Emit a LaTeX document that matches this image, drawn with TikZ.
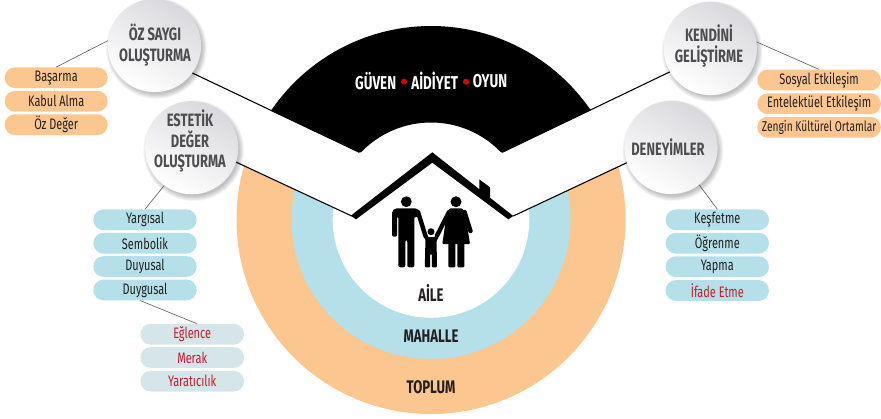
\documentclass[tikz,border=0pt]{standalone}
\usepackage{fontspec}
\setmainfont{Fira Sans}[FakeStretch=0.72]
\definecolor{oran}{HTML}{FBC68F}
\definecolor{lblue}{HTML}{B5E0E9}
\definecolor{pale}{HTML}{D5E5EA}
\definecolor{tred}{HTML}{BE1E2D}
\definecolor{ballgray}{HTML}{4D4D4F}
\definecolor{ink}{HTML}{231F20}
\definecolor{ballshade}{HTML}{D9D9DD}
\tikzset{
  pillbase/.style={draw=none,minimum height=20.8pt,inner sep=0pt,rounded corners=10.3pt,font=\fontsize{15.2}{17}\selectfont,text=ink},
  opill/.style={pillbase,fill=oran,minimum width=103pt},
  wpill/.style={pillbase,fill=oran,minimum width=123.6pt},
  bpill/.style={pillbase,fill=lblue,minimum width=103.4pt},
  ppill/.style={pillbase,fill=pale,minimum width=103.6pt,text=tred},
  ball/.style={circle,minimum size=93.2pt,inner sep=0pt,draw=none,left color=ballshade,right color=white,shading angle=-30},
  balltext/.style={align=center,font=\fontsize{17.9}{20.5}\selectfont\bfseries,text=ballgray,inner sep=0pt},
  ringtext/.style={font=\fontsize{18.2}{20}\selectfont\bfseries,text=ink,inner sep=0pt},
  toptext/.style={font=\fontsize{18.6}{20}\selectfont\bfseries,text=white,inner sep=0pt},
  reddot/.style={circle,fill=red!85!black,minimum size=6pt,inner sep=0pt,draw=none},
  thinlink/.style={draw=black!65,line width=0.6pt},
  blackline/.style={draw=black,line width=1.1pt},
  limb/.style={line width=#1,line cap=round,line join=round,draw=black},
}
\newcommand{\ballshadow}[2]{%
  \foreach \k in {1,...,10}{\fill[black,opacity=0.028] (#1+2,#2+3) circle ({46.6+4.5-0.6*\k});}%
}
\begin{document}
\begin{tikzpicture}[x=1pt,y=-1pt]
\useasboundingbox (0,0) rectangle (881,418);
% rings
\fill[oran] (431,219.5) circle (194.5);
\fill[lblue] (431,219.5) circle (139.5);
\fill[white] (431,219.5) circle (98.3);
% white band mask
\fill[white] (180,136.5) -- (351.7,216) -- (513.3,216) -- (680,136.5) -- (680,-5) -- (180,-5) -- cycle;
% black sector
\begin{scope}
  \clip (193,74) -- (359.3,152.3) -- (502.3,152.3) -- (669,73) -- (669,-5) -- (193,-5) -- cycle;
  \fill[black,even odd rule] (431,219.5) circle (193.5) (431,219.5) circle (97);
\end{scope}
% roof
\fill[black] (350.7,215.7) -- (432.3,152.3) -- (479.3,189.2) -- (479.3,179.3) -- (490,187.3) -- (490,197.7) -- (513.3,216) -- (508.3,219.3) -- (432.3,162.7) -- (356,219.3) -- cycle;
% family
\fill (406.3,201.7) circle (5.4);
\fill (456,201.7) circle (5.5);
\fill (431,231.7) circle (3.5);
% man
\fill[rounded corners=2pt] (395,208.3) -- (417,208.3) -- (420.5,212) -- (416,218) -- (414.3,216) -- (414.3,267.3) -- (407.3,267.3) -- (407.3,240) -- (405.3,240) -- (405.3,267.3) -- (398.3,267.3) -- (398.3,216) -- (397.2,216) -- (397.2,236.7) -- (392,236.7) -- (392,211) -- cycle;
\draw[limb=4.4pt] (418,212) -- (425.5,236);
\draw[limb=4pt] (426,237) -- (431,243);
% woman
\fill[rounded corners=1pt] (450,208.3) -- (462,208.3) -- (465,212) -- (470,244) -- (442.3,244) -- (447,212) -- cycle;
\fill[rounded corners=1pt] (448.3,243) -- (455.3,243) -- (455.3,267.3) -- (448.3,267.3) -- cycle;
\fill[rounded corners=1pt] (457.3,243) -- (464.3,243) -- (464.3,267.3) -- (457.3,267.3) -- cycle;
\draw[limb=4.4pt] (449,212) -- (436.8,236);
\draw[limb=4.4pt] (464.5,212) -- (470.5,231);
% child
\fill[rounded corners=1pt] (425.5,237) -- (436.5,237) -- (437,267.3) -- (431.8,267.3) -- (431.8,254) -- (430.2,254) -- (430.2,267.3) -- (424.8,267.3) -- cycle;
\draw[limb=3.6pt] (436.5,237.5) -- (433,243);
% ball shadows
\ballshadow{154.5}{45.5}
\ballshadow{191.7}{147.7}
\ballshadow{710.3}{48.5}
\ballshadow{671}{147.5}
% balls
\node[ball] (oz) at (154.5,45.5) {};
\node[ball] (est) at (191.7,147.7) {};
\node[ball] (ken) at (710.3,48.5) {};
\node[ball] (den) at (671,147.5) {};
\node[balltext] (oztext) at (155,45) {ÖZ SAYGI\\OLUŞTURMA};
\node[balltext] (esttext) at (190,141) {ESTETİK\\DEĞER\\OLUŞTURMA};
\node[balltext] (kentext) at (709,46) {KENDİNİ\\GELİŞTİRME};
\node[balltext] (dentext) at (668,147) {DENEYİMLER};
% black lines
\coordinate (vl) at (359.3,152.3);
\coordinate (vr) at (502.3,152.3);
\coordinate (tl) at (351.7,216);
\coordinate (tr) at (513.3,216);
\draw[blackline] (oz.-36.5) -- (vl);
\draw[blackline] (ken.210.7) -- (vr);
\draw[blackline] (est.-18) -- (tl);
\draw[blackline] (den.199) -- (tr);
% top labels
\node[toptext] (guven) at (375.7,81) {GÜVEN};
\node[toptext] (aidiyet) at (434.7,81) {AİDİYET};
\node[toptext] (oyun) at (490,81) {OYUN};
\node[reddot] (d1) at (404,81.7) {};
\node[reddot] (d2) at (466,81.7) {};
\node[ringtext] (aile) at (431,293) {AİLE};
\node[ringtext] (mahalle) at (431,336) {MAHALLE};
\node[ringtext] (toplum) at (431,386.7) {TOPLUM};
% pills
\node[opill] (p1) at (56.2,77.7) {Başarma};
\node[opill] (p2) at (56.2,101.2) {Kabul Alma};
\node[opill] (p3) at (56.2,124.7) {Öz Değer};
\node[wpill] (w1) at (819.1,80) {Sosyal Etkileşim};
\node[wpill] (w2) at (819.1,103.8) {Entelektüel Etkileşim};
\node[wpill,font=\fontsize{14.2}{16}\selectfont] (w3) at (819.1,127.2) {Zengin Kültürel Ortamlar};
\node[bpill] (b1) at (145,219.8) {Yargısal};
\node[bpill] (b2) at (145,243.2) {Sembolik};
\node[bpill] (b3) at (145,266.5) {Duyusal};
\node[bpill] (b4) at (145,290) {Duygusal};
\node[ppill] (g1) at (192.2,334.2) {Eğlence};
\node[ppill] (g2) at (192.2,357.5) {Merak};
\node[ppill] (g3) at (192.2,381.2) {Yaratıcılık};
\node[bpill] (c1) at (717.3,219.8) {Keşfetme};
\node[bpill] (c2) at (717.3,243.2) {Öğrenme};
\node[bpill] (c3) at (717.3,266.7) {Yapma};
\node[bpill,text=tred] (c4) at (717.3,290.5) {İfade Etme};
% thin connectors
\draw[thinlink] (oz.174) -- (p1.north);
\draw[thinlink] (ken.8) -- (w1.north);
\draw[thinlink] (est.234) -- (b1.north);
\draw[thinlink] (den.-53) -- (c1.north);
\draw[thinlink] ([xshift=-4.7pt]b4.south) -- ([xshift=4.5pt]g1.north);
\end{tikzpicture}
\end{document}
